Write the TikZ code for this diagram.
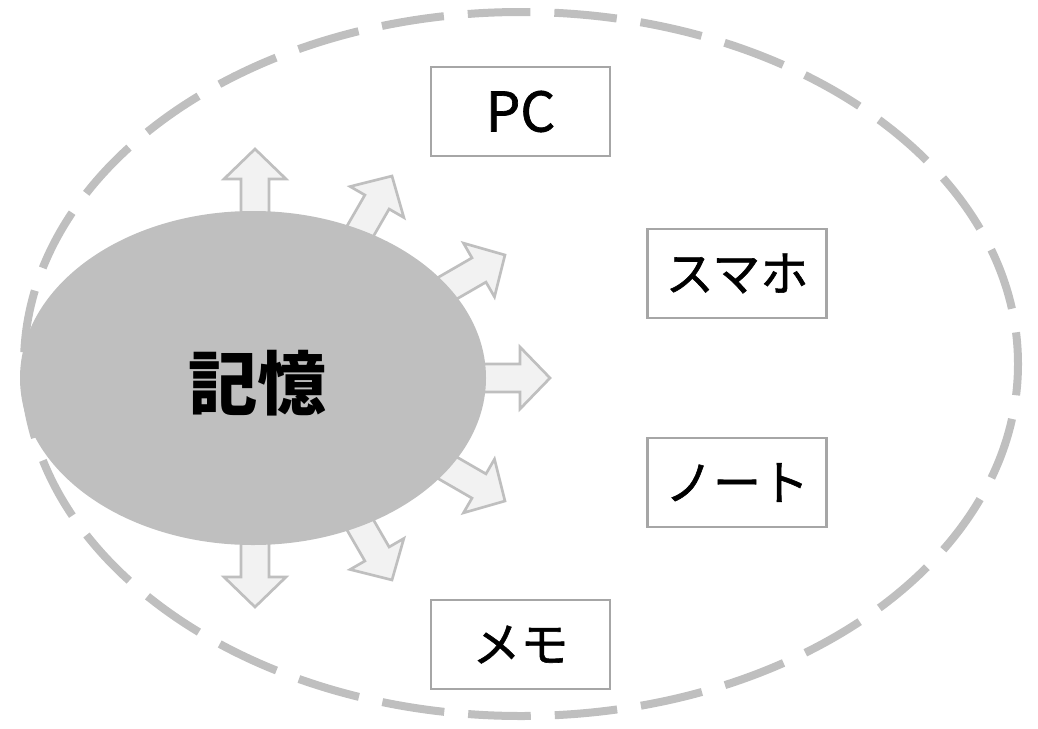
\documentclass[tikz,border=0pt]{standalone}
\usepackage{fontspec}
\setmainfont{Noto Sans CJK JP}
\newfontfamily\boxfont[FakeBold=1.2]{Noto Sans CJK JP}
\usetikzlibrary{shapes.geometric}
\definecolor{dashgray}{HTML}{BFBFBF}
\definecolor{memfill}{HTML}{BFBFBF}
\definecolor{arrowfill}{HTML}{F2F2F2}
\definecolor{boxgray}{HTML}{A6A6A6}
\tikzset{
  px/.style={x=0.75pt,y=-0.75pt},
  outerring/.style={draw=dashgray,line width=6pt,dash pattern=on 47pt off 18pt,dash phase=23.5pt},
  blockarrow/.style={fill=arrowfill,draw=dashgray,line width=2pt,line join=miter},
  memory/.style={ellipse,fill=memfill,draw=none,minimum width=349.5pt,minimum height=250.5pt,inner sep=0pt},
  devbox/.style={draw=boxgray,line width=2.2pt,fill=white,minimum width=134.25pt,minimum height=66.75pt,inner sep=0pt,font=\boxfont\fontsize{36}{44}\selectfont},
  latinbox/.style={devbox,font=\boxfont\fontsize{41}{48}\selectfont},
  memlabel/.style={font=\fontsize{52}{60}\selectfont\bfseries,inner sep=0pt}
}
\begin{document}
\begin{tikzpicture}[px]
\useasboundingbox (0,0) rectangle (1038,728);
% outer dashed ellipse
\draw[outerring] (521,364) ellipse (497 and 352);
% block arrows radiating from the memory ellipse
\foreach \sx/\sy/\ang in {255/212/90, 360.5/230.6/60, 450.4/286.5/30, 487/378/0, 450.4/469.5/-30, 360.5/525.4/-60, 255/544/-90}{
  \begin{scope}[shift={(\sx,\sy)},rotate=\ang]
    \draw[blockarrow] (-12,-14) -- (33,-14) -- (33,-31) -- (63,0) -- (33,31) -- (33,14) -- (-12,14) -- cycle;
  \end{scope}
}
% memory ellipse
\node[memory] (mem) at (253,378) {};
\node[memlabel] (memtext) at (257.5,383) {記憶};
% device boxes
\node[latinbox] (pc) at (520.5,111.5) {PC};
\node[devbox] (phone) at (737,273.5) {スマホ};
\node[devbox] (note) at (737,482.5) {ノート};
\node[devbox] (memo) at (520.5,644.5) {メモ};
\end{tikzpicture}
\end{document}
